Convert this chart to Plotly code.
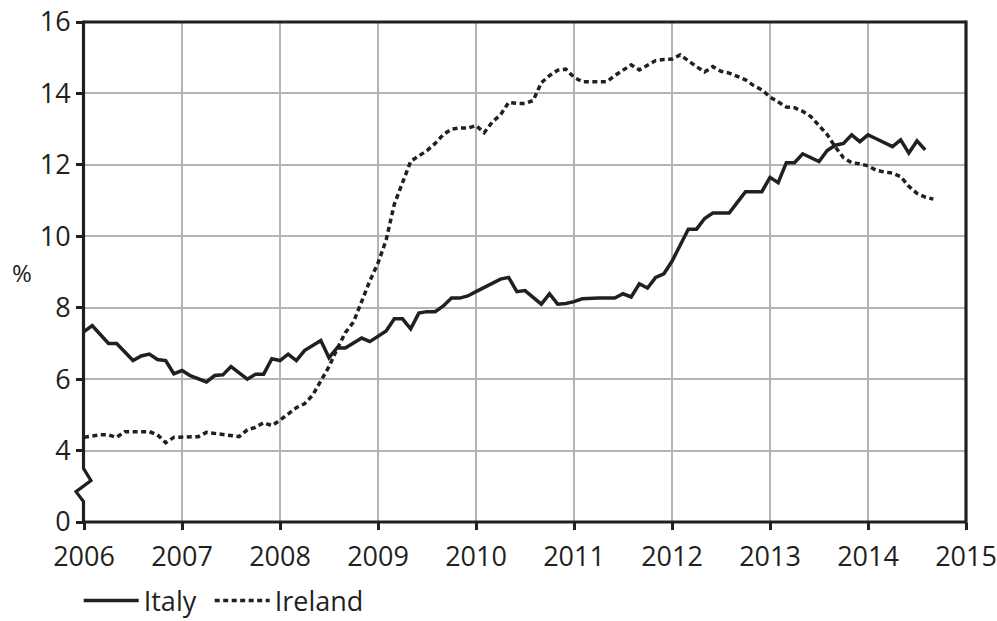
import plotly.graph_objects as go

# Monthly values, Jan 2006 onward (percent)
italy = [7.33, 7.50, 7.25, 7.00, 7.00, 6.75, 6.52, 6.65, 6.70, 6.55, 6.52, 6.15,
         6.24, 6.10, 6.00, 5.92, 6.10, 6.12, 6.35, 6.17, 6.00, 6.14, 6.14, 6.57,
         6.52, 6.70, 6.52, 6.80, 6.93, 7.08, 6.60, 6.88, 6.87, 7.00, 7.15, 7.05,
         7.20, 7.35, 7.69, 7.69, 7.41, 7.85, 7.89, 7.89, 8.05, 8.27, 8.27, 8.33,
         8.45, 8.56, 8.68, 8.80, 8.85, 8.45, 8.48, 8.30, 8.10, 8.39, 8.10, 8.12,
         8.17, 8.25, 8.27, 8.27, 8.27, 8.27, 8.39, 8.30, 8.67, 8.55, 8.85, 8.95,
         9.30, 9.75, 10.20, 10.20, 10.50, 10.65, 10.65, 10.65, 10.95, 11.25, 11.25, 11.25,
         11.65, 11.50, 12.06, 12.06, 12.31, 12.20, 12.09, 12.40, 12.55, 12.60, 12.84, 12.65,
         12.84, 12.73, 12.62, 12.51, 12.70, 12.33, 12.67, 12.42]

ireland = [4.37, 4.40, 4.44, 4.44, 4.37, 4.53, 4.53, 4.53, 4.53, 4.44, 4.22, 4.37,
           4.38, 4.38, 4.39, 4.51, 4.48, 4.45, 4.42, 4.39, 4.58, 4.65, 4.78, 4.70,
           4.85, 5.04, 5.20, 5.31, 5.55, 5.95, 6.35, 6.85, 7.30, 7.60, 8.20, 8.75,
           9.25, 9.90, 10.90, 11.50, 12.10, 12.25, 12.40, 12.60, 12.85, 13.00, 13.03, 13.03,
           13.10, 12.90, 13.20, 13.40, 13.75, 13.72, 13.72, 13.80, 14.30, 14.50, 14.65, 14.68,
           14.45, 14.33, 14.33, 14.33, 14.33, 14.50, 14.65, 14.80, 14.66, 14.78, 14.92, 14.95,
           14.96, 15.08, 14.90, 14.75, 14.60, 14.75, 14.62, 14.57, 14.48, 14.38, 14.22, 14.10,
           13.90, 13.75, 13.62, 13.60, 13.50, 13.35, 13.10, 12.85, 12.50, 12.20, 12.06, 12.03,
           11.97, 11.85, 11.80, 11.77, 11.67, 11.40, 11.20, 11.10, 11.04]

start_year = 2006
x_ticks = list(range(2006, 2016))
y_tick_labels = ["0", "4", "6", "8", "10", "12", "14", "16"]
y_tick_values = [0, 4, 6, 8, 10, 12, 14, 16]

# broken axis: 0 sits directly below 4, so values >= 4 are shifted down by 2
def disp(v):
    return v - 2 if v >= 4 else v

def months(n):
    return [start_year + i / 12 for i in range(n)]

INK = "#231f20"
GRID = "#b4b4b4"
FONT = "Open Sans"
FS = 27

fig = go.Figure()
fig.add_trace(go.Scatter(x=months(len(italy)), y=[disp(v) for v in italy], mode="lines",
                         name="Italy", legend="legend", line=dict(color=INK, width=3.5)))
fig.add_trace(go.Scatter(x=months(len(ireland)), y=[disp(v) for v in ireland], mode="lines",
                         name="Ireland", legend="legend2",
                         line=dict(color=INK, width=3.5, dash="5px,3.5px")))

ymax = disp(16)
legend_common = dict(orientation="h", xanchor="left", y=-0.158, yanchor="middle",
                     font=dict(family=FONT, size=FS, color=INK), itemwidth=55,
                     bgcolor="rgba(0,0,0,0)")
fig.update_layout(
    width=997, height=621,
    margin=dict(l=84, r=31, t=22, b=99, autoexpand=False),
    paper_bgcolor="white", plot_bgcolor="white",
    font=dict(family=FONT, size=FS, color=INK),
    showlegend=True,
    legend=dict(x=-0.006, **legend_common),
    legend2=dict(x=0.1425, **legend_common),
    xaxis=dict(range=[2006, 2015], tickvals=x_ticks, ticktext=[str(t) for t in x_ticks],
               showgrid=True, gridcolor=GRID, gridwidth=1.5, showline=False, zeroline=False,
               ticks="outside", ticklen=7, tickwidth=3, tickcolor=INK, automargin=False,
               ticklabelstandoff=4,
               tickfont=dict(family=FONT, size=FS, color=INK)),
    yaxis=dict(range=[0, ymax], tickvals=[disp(v) for v in y_tick_values], ticktext=y_tick_labels,
               showgrid=True, gridcolor=GRID, gridwidth=1.5, showline=False, zeroline=False,
               ticks="outside", ticklen=7, tickwidth=3, tickcolor=INK, automargin=False,
               tickfont=dict(family=FONT, size=FS, color=INK)),
)

# frame: left axis with break zig-zag, other three sides plain
def py(v):
    return v / ymax

ext = 1.5 / 500
fig.add_shape(type="path", xref="paper", yref="paper", xsizemode="pixel", xanchor=0,
              path=(f"M-0.5,{1 + ext} L-0.5,{py(1.5)} L7,{py(1.16)} L-8,{py(0.85)} "
                    f"L-0.5,{py(0.57)} L-0.5,{-ext}"),
              line=dict(color=INK, width=3.2))
fig.add_shape(type="line", xref="paper", yref="paper", x0=0, x1=1, y0=1, y1=1,
              line=dict(color=INK, width=3.2))
fig.add_shape(type="line", xref="paper", yref="paper", x0=0, x1=1, y0=0, y1=0,
              line=dict(color=INK, width=3.2))
fig.add_shape(type="line", xref="paper", yref="paper", x0=1, x1=1, y0=-ext, y1=1 + ext,
              line=dict(color=INK, width=3.2))

fig.add_annotation(text="%", xref="paper", yref="paper", x=-0.07, y=py(disp(9.0)),
                   showarrow=False, xanchor="center", yanchor="middle",
                   font=dict(family=FONT, size=24, color=INK))

fig.write_html("out.html", config={"displayModeBar": False},
               post_script="document.body.style.margin='0';document.body.style.overflow='hidden';")
